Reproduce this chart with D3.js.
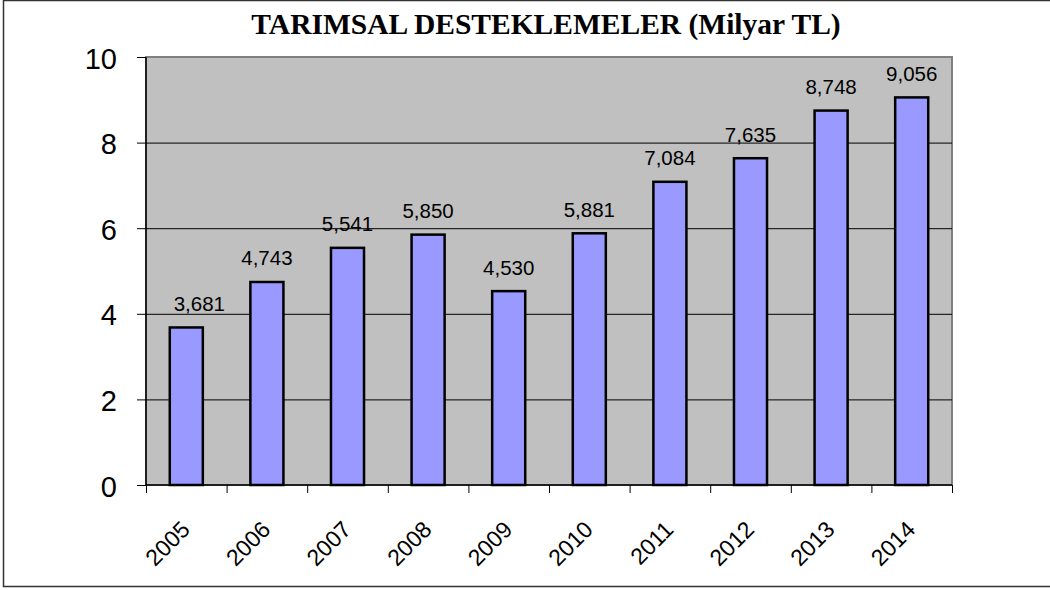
<!DOCTYPE html>
<html>
<head>
<meta charset="utf-8">
<script src="https://cdn.jsdelivr.net/npm/d3@7"></script>
<style>
  body { margin: 0; background: #fff; }
  svg { display: block; }
</style>
</head>
<body>
<div id="chart"></div>
<script>
var years = ["2005","2006","2007","2008","2009","2010","2011","2012","2013","2014"];
var values = [3.681, 4.743, 5.541, 5.850, 4.530, 5.881, 7.084, 7.635, 8.748, 9.056];
var yTicks = [0, 2, 4, 6, 8, 10];
var title = "TARIMSAL DESTEKLEMELER (Milyar TL)";

var width = 1050, height = 590;
var plotLeft = 146, plotRight = 952, plotTop = 57, plotBottom = 485;

var fmt = function(v) { return d3.format(".3f")(v).replace(".", ","); };

var svg = d3.select("#chart")
  .append("svg")
  .attr("width", width)
  .attr("height", height);

// outer frame (right side runs off the picture)
svg.append("rect")
  .attr("x", 3.5).attr("y", 0.5)
  .attr("width", 1060).attr("height", 586)
  .attr("fill", "#fff")
  .attr("stroke", "#333")
  .attr("stroke-width", 1.5);

var x = d3.scaleBand().domain(years).range([plotLeft, plotRight]).padding(0);
var xEdge = d3.scaleLinear().domain([0, years.length]).range([plotLeft, plotRight]);
var y = d3.scaleLinear().domain([0, 10]).range([plotBottom, plotTop]);

// plot area
svg.append("rect")
  .attr("x", plotLeft).attr("y", plotTop)
  .attr("width", plotRight - plotLeft).attr("height", plotBottom - plotTop)
  .attr("fill", "#c0c0c0")
  .attr("stroke", "#808080")
  .attr("stroke-width", 2);

// grid lines
svg.append("g")
  .attr("class", "grid")
  .attr("transform", "translate(" + plotLeft + ",0)")
  .call(d3.axisLeft(y).tickValues([2, 4, 6, 8]).tickSize(-(plotRight - plotLeft)).tickFormat(""))
  .call(function(g) { g.select(".domain").remove(); })
  .selectAll("line").attr("stroke", "#000").attr("stroke-width", 1);

// bars
var bw = x.bandwidth() * 0.41;
svg.selectAll(".bar")
  .data(values)
  .enter()
  .append("rect")
  .attr("class", "bar")
  .attr("x", function(d, i) { return x(years[i]) + (x.bandwidth() - bw) / 2; })
  .attr("y", function(d) { return y(d); })
  .attr("width", bw)
  .attr("height", function(d) { return y(0) - y(d); })
  .attr("fill", "#9999ff")
  .attr("stroke", "#000")
  .attr("stroke-width", 2.5);

// value labels (the first one sits a little to the right in the original)
svg.selectAll(".vlabel")
  .data(values)
  .enter()
  .append("text")
  .attr("class", "vlabel")
  .attr("x", function(d, i) { return x(years[i]) + x.bandwidth() / 2 + (i === 0 ? 13 : 0); })
  .attr("y", function(d) { return y(d) - 16.5; })
  .attr("text-anchor", "middle")
  .attr("font-family", "Liberation Sans, Arial, sans-serif")
  .attr("font-size", "20.5px")
  .attr("fill", "#000")
  .text(function(d) { return fmt(d); });

// y axis
var yAxis = svg.append("g")
  .attr("transform", "translate(" + plotLeft + ",0)")
  .call(d3.axisLeft(y).tickValues(yTicks).tickSize(9).tickPadding(20).tickFormat(d3.format("d")));
yAxis.select(".domain").attr("stroke", "#000").attr("stroke-width", 1.5).attr("d", "M0," + plotBottom + "V" + plotTop);
yAxis.selectAll(".tick line").attr("stroke", "#000");
yAxis.selectAll("text")
  .attr("font-family", "Liberation Sans, Arial, sans-serif")
  .attr("font-size", "29px")
  .attr("dy", "0.38em")
  .attr("fill", "#000");

// x axis: ticks at category edges
var xAxis = svg.append("g")
  .attr("transform", "translate(0," + plotBottom + ")")
  .call(d3.axisBottom(xEdge).ticks(years.length).tickSize(8).tickFormat(""));
xAxis.select(".domain").attr("stroke", "#000").attr("stroke-width", 1.5).attr("d", "M" + plotLeft + ",0H" + plotRight);
xAxis.selectAll(".tick line").attr("stroke", "#000");

// rotated year labels
svg.selectAll(".xlabel")
  .data(years)
  .enter()
  .append("text")
  .attr("class", "xlabel")
  .attr("transform", function(d) {
    return "translate(" + (x(d) + x.bandwidth() / 2 + 5) + "," + (plotBottom + 46) + ") rotate(-45)";
  })
  .attr("text-anchor", "end")
  .attr("font-family", "Liberation Sans, Arial, sans-serif")
  .attr("font-size", "23px")
  .attr("fill", "#000")
  .text(function(d) { return d; });

// title
svg.append("text")
  .attr("x", 546)
  .attr("y", 34)
  .attr("text-anchor", "middle")
  .attr("font-family", "Liberation Serif, Times New Roman, serif")
  .attr("font-weight", "bold")
  .attr("font-size", "29.5px")
  .attr("fill", "#000")
  .text(title);
</script>
</body>
</html>
